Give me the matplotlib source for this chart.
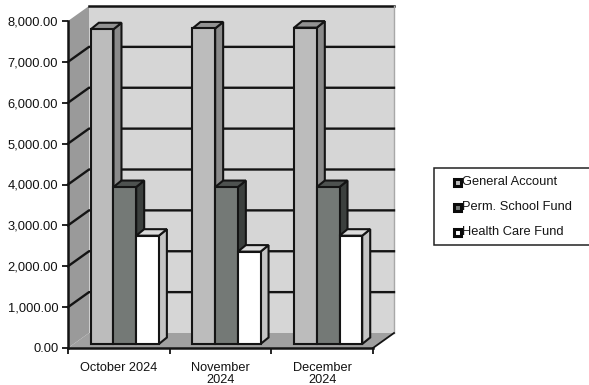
import matplotlib
matplotlib.use("Agg")
import matplotlib.pyplot as plt
from matplotlib.patches import Polygon, Rectangle

plt.rcParams['font.family'] = ['Liberation Sans', 'DejaVu Sans']

months = ['October 2024', 'November\n2024', 'December\n2024']
series_names = ['General Account', 'Perm. School Fund', 'Health Care Fund']
general = [7700, 7720, 7740]
perm = [3840, 3840, 3840]
health = [2650, 2260, 2650]
y_ticks = [0, 1000, 2000, 3000, 4000, 5000, 6000, 7000, 8000]

W, H = 589, 385
fig = plt.figure(figsize=(W / 100, H / 100), dpi=100, facecolor='white')
L, R, T, B = 68, 373, 21, 348
ax = fig.add_axes([L / W, 1 - B / H, (R - L) / W, (B - T) / H])
ax.set_xlim(0, 3)
ax.set_ylim(0, 8000)
ax.patch.set_visible(False)

px = 3 / (R - L)
py = 8000 / (B - T)
wall_dx, wall_dy = 21 * px, 15 * py
bar_dx, bar_dy = 8 * px, 6.5 * py
base_dx, base_dy = 6 * px, 4 * py
bar_w = 22.7 * px
ink = '#141414'


def poly(points, fc, z, lw=1.5, ec=ink):
    ax.add_patch(Polygon(points, closed=True, fc=fc, ec=ec, lw=lw, zorder=z, clip_on=False))


# walls and floor
poly([(wall_dx, wall_dy), (3 + wall_dx, wall_dy), (3 + wall_dx, 8000 + wall_dy), (wall_dx, 8000 + wall_dy)],
     '#d6d6d6', 1, lw=0)
ax.plot([wall_dx, 3 + wall_dx], [8000 + wall_dy] * 2, color=ink, lw=1.8, zorder=2, clip_on=False)
ax.plot([3 + wall_dx] * 2, [wall_dy, 8000 + wall_dy], color='#a8a8a8', lw=1, zorder=2, clip_on=False)
poly([(0, 0), (wall_dx, wall_dy), (wall_dx, 8000 + wall_dy), (0, 8000)], '#9a9a9a', 1, lw=0)
for v in y_ticks[1:-1]:
    ax.plot([0, wall_dx, 3 + wall_dx], [v, v + wall_dy, v + wall_dy], color=ink, lw=1.7, zorder=2, clip_on=False)
poly([(0, 0), (3, 0), (3 + wall_dx, wall_dy), (wall_dx, wall_dy)], '#a0a0a0', 3, lw=0)
ax.plot([3, 3 + wall_dx], [0, wall_dy], color=ink, lw=1.3, zorder=3, clip_on=False)

# bars
styles = [('#bcbcbc', '#8a8a8a', '#929292'),
          ('#747976', '#3c403e', '#4e5250'),
          ('#ffffff', '#c4c4c4', '#dcdcdc')]
for g in range(3):
    start = g + (1 - 3 * bar_w) / 2 + base_dx
    for s, vals in enumerate([general, perm, health]):
        front, side, top = styles[s]
        x0 = start + s * bar_w
        x1 = x0 + bar_w
        y0 = base_dy
        y1 = vals[g] + base_dy
        z = 5 + g * 3 + s
        poly([(x1, y0), (x1 + bar_dx, y0 + bar_dy), (x1 + bar_dx, y1 + bar_dy), (x1, y1)], side, z)
        poly([(x0, y1), (x1, y1), (x1 + bar_dx, y1 + bar_dy), (x0 + bar_dx, y1 + bar_dy)], top, z)
        poly([(x0, y0), (x1, y0), (x1, y1), (x0, y1)], front, z)

# axes
for name in ['top', 'right']:
    ax.spines[name].set_visible(False)
for name in ['left', 'bottom']:
    ax.spines[name].set_linewidth(1.8)
    ax.spines[name].set_color(ink)
    ax.spines[name].set_zorder(30)
ax.set_yticks(y_ticks, [f'{v:,.2f}' for v in y_ticks], fontsize=9.3, color='#111111')
ax.set_xticks([0, 1, 2, 3], [''] * 4)
ax.set_xticks([0.5, 1.5, 2.5], months, minor=True, fontsize=9.2, color='#111111', linespacing=1.05)
ax.tick_params(axis='x', which='minor', length=0, pad=10)
ax.tick_params(axis='both', which='major', length=4, width=1.3, color=ink)
ax.tick_params(axis='y', pad=3)

# legend
fig.add_artist(Rectangle((433.5 / W, 1 - 245 / H), 170 / W, 77 / H, transform=fig.transFigure,
                         fc='white', ec='#222222', lw=1.1))
for name, style, yp in zip(series_names, styles, [182, 207, 232]):
    fig.add_artist(Rectangle((453.5 / W, 1 - (yp + 3.5) / H), 7 / W, 7 / H, transform=fig.transFigure,
                             fc=style[0], ec='#0a0a0a', lw=2.2))
    fig.text(462.5 / W, 1 - yp / H, name, fontsize=9.25, va='center', ha='left', color='#151515')

fig.savefig('out.png', dpi=100)
